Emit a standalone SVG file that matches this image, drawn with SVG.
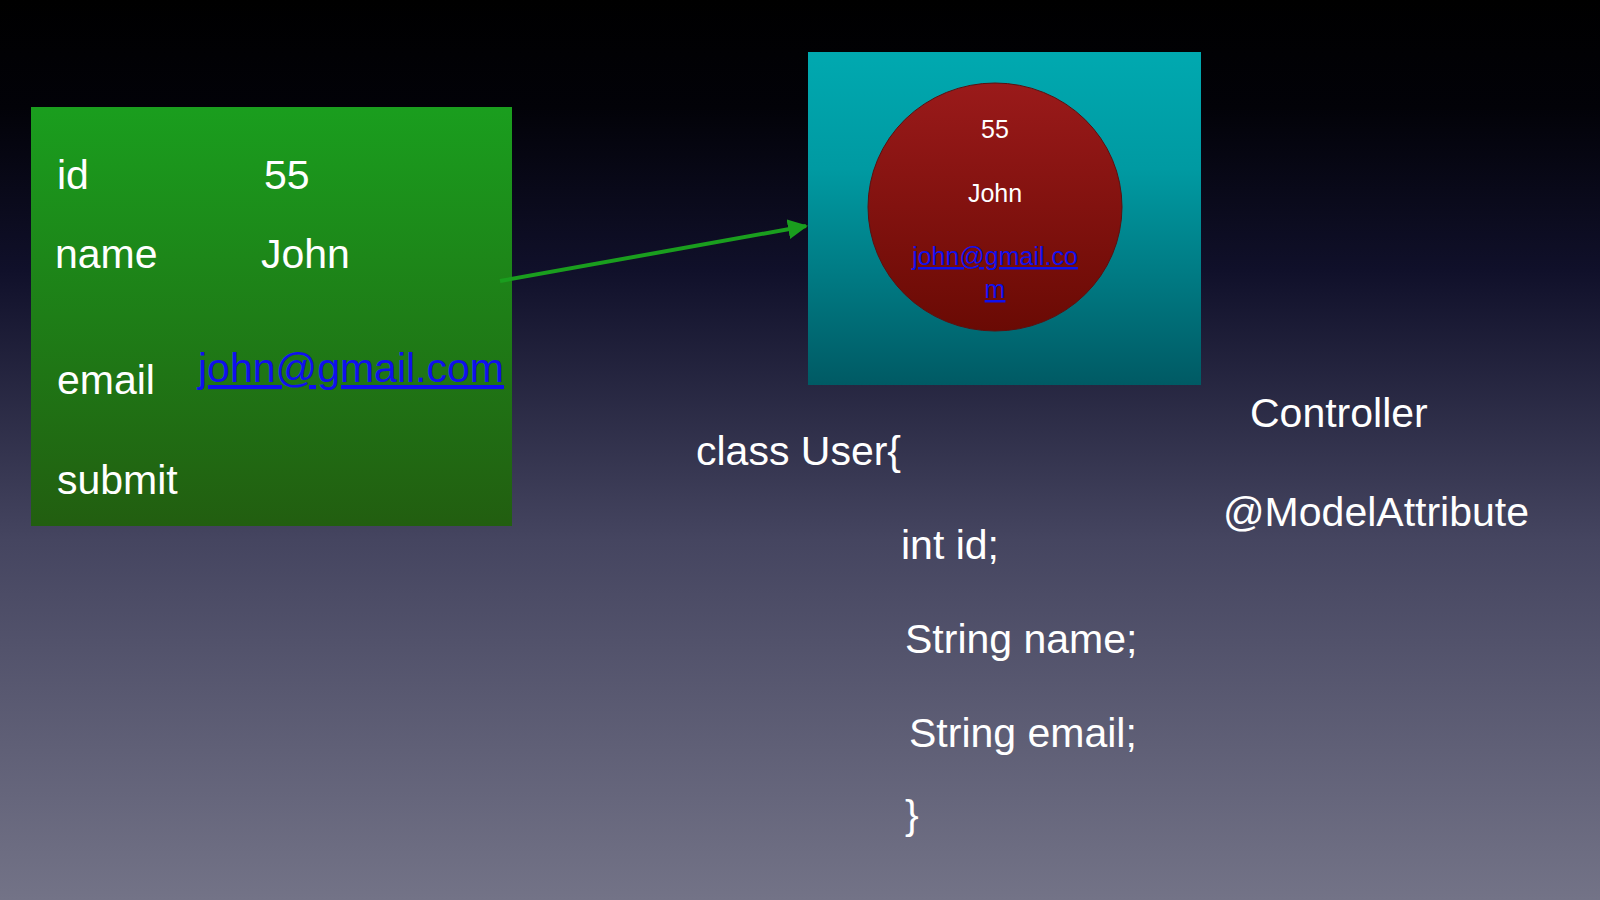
<svg xmlns="http://www.w3.org/2000/svg" width="1600" height="900" viewBox="0 0 1600 900">
<defs>
<linearGradient id="bg" x1="0" y1="0" x2="0" y2="1">
<stop offset="0" stop-color="#000000"/><stop offset="0.12" stop-color="#020208"/><stop offset="0.3" stop-color="#10102a"/><stop offset="0.6" stop-color="#454560"/><stop offset="1" stop-color="#737387"/>
</linearGradient>
<linearGradient id="gr" x1="0" y1="0" x2="0" y2="1"><stop offset="0" stop-color="#1a9e1e"/><stop offset="1" stop-color="#225e10"/></linearGradient>
<linearGradient id="te" x1="0" y1="0" x2="0" y2="1"><stop offset="0" stop-color="#00a9b0"/><stop offset="0.35" stop-color="#009aa2"/><stop offset="1" stop-color="#005a64"/></linearGradient>
<linearGradient id="rd" x1="0" y1="0" x2="0" y2="1"><stop offset="0" stop-color="#9a1a1a"/><stop offset="1" stop-color="#6a0a04"/></linearGradient>
<marker id="ah" viewBox="0 0 10 10" refX="9" refY="5" markerWidth="5" markerHeight="5" orient="auto"><path d="M0,0 L10,5 L0,10 z" fill="#1a9e1e"/></marker>
<style>
text{font-family:"Helvetica Neue","Liberation Sans",Arial,sans-serif;fill:#fff}
.b{font-size:41px}.c{font-size:25px}
.l{fill:#1010ee;text-decoration:underline}
</style>
</defs>
<rect width="1600" height="900" fill="url(#bg)"/>
<g id="form">
<rect x="31" y="107" width="481" height="419" fill="url(#gr)"/>
<text class="b" x="57" y="189">id</text><text class="b" x="264" y="189">55</text>
<text class="b" x="55" y="268">name</text><text class="b" x="261" y="268">John</text>
<text class="b" x="57" y="394">email</text><text class="b l" x="198" y="382" style="font-size:41px">john@gmail.com</text>
<text class="b" x="57" y="494">submit</text>
</g>
<g id="model">
<rect x="808" y="52" width="393" height="333" fill="url(#te)"/>
<ellipse cx="995" cy="207" rx="127" ry="124" fill="url(#rd)" stroke="#5a1010"/>
<text class="c" x="995" y="138" text-anchor="middle">55</text>
<text class="c" x="995" y="202" text-anchor="middle">John</text>
<text class="c l" x="995" y="265" text-anchor="middle">john@gmail.co</text>
<text class="c l" x="995" y="298" text-anchor="middle">m</text>
</g>
<g id="connectors">
<line x1="500" y1="281" x2="806" y2="226" stroke="#1a9e1e" stroke-width="4" marker-end="url(#ah)"/>
</g>
<g id="code">
<text class="b" x="696" y="465">class User{</text>
<text class="b" x="901" y="559">int id;</text>
<text class="b" x="905" y="653">String name;</text>
<text class="b" x="909" y="747">String email;</text>
<text class="b" x="905" y="829">}</text>
</g>
<g id="controller">
<text class="b" x="1250" y="427">Controller</text>
<text class="b" x="1223" y="526">@ModelAttribute</text>
</g>
</svg>
